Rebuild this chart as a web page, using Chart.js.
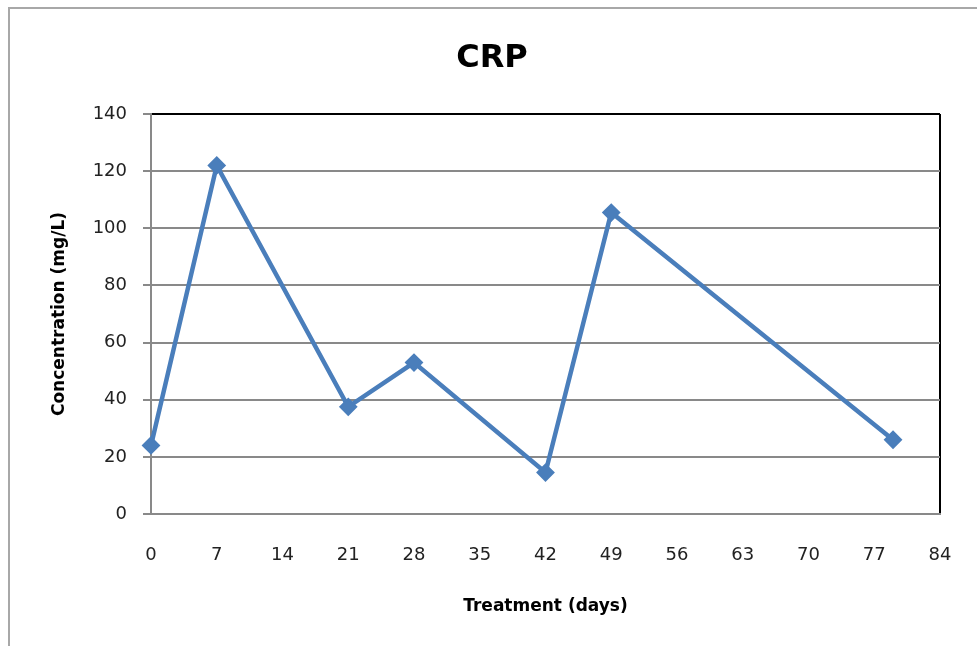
<!DOCTYPE html>
<html>
<head>
<meta charset="utf-8">
<title>CRP</title>
<script src="https://cdn.jsdelivr.net/npm/chart.js@4/dist/chart.umd.min.js"></script>
<style>
  body { margin: 0; background: #fff; }
</style>
</head>
<body>
<canvas id="grafico" width="977" height="646"></canvas>
<script>
// datos
const dias = [0, 7, 21, 28, 42, 49, 79];
const crp = [24, 122, 37.5, 53, 14.5, 105.5, 26];
const ticksX = [0, 7, 14, 21, 28, 35, 42, 49, 56, 63, 70, 77, 84];
const ticksY = [0, 20, 40, 60, 80, 100, 120, 140];

const azul = "#4a7ebb";
const gris = "#898989";
const fuente = "'DejaVu Sans', sans-serif";

// marco exterior gris (como en la hoja de Excel)
const marco = {
  id: "marco",
  beforeDraw(chart) {
    const ctx = chart.ctx;
    ctx.save();
    ctx.strokeStyle = "#a8a8a8";
    ctx.lineWidth = 2;
    ctx.beginPath();
    ctx.moveTo(9, 646);
    ctx.lineTo(9, 8);
    ctx.lineTo(977, 8);
    ctx.stroke();
    ctx.restore();
  },
};

const ctx = document.getElementById("grafico").getContext("2d");

new Chart(ctx, {
  type: "line",
  data: {
    datasets: [
      {
        label: "CRP",
        data: dias.map((d, i) => ({ x: d, y: crp[i] })),
        borderColor: azul,
        backgroundColor: azul,
        borderWidth: 4.5,
        pointStyle: "rectRot",
        pointRadius: 8,
        pointBorderWidth: 2,
        pointBackgroundColor: azul,
        pointBorderColor: azul,
        tension: 0,
        fill: false,
        clip: false,
      },
    ],
  },
  options: {
    responsive: false,
    animation: false,
    layout: { padding: { left: 44, right: 37, top: 0, bottom: 0 } },
    plugins: {
      legend: { display: false },
      tooltip: { enabled: false },
      title: {
        display: true,
        text: "CRP",
        color: "#000",
        font: { family: fuente, size: 32, weight: "bold" },
        padding: { top: 39, bottom: 36.6 },
      },
    },
    scales: {
      x: {
        type: "linear",
        min: 0,
        max: 84,
        afterBuildTicks: (scale) => {
          scale.ticks = ticksX.map((v) => ({ value: v }));
        },
        afterFit: (scale) => {
          scale.height = 132;
          scale.paddingLeft = 0;
          scale.paddingRight = 0;
        },
        ticks: {
          padding: 31,
          color: "#222",
          font: { family: fuente, size: 18 },
        },
        grid: {
          drawTicks: false,
          lineWidth: 2,
          color: (c) => (c.tick && c.tick.value === 84 ? "#000" : "rgba(0,0,0,0)"),
        },
        border: { display: true, color: gris, width: 2 },
        title: {
          display: true,
          text: "Treatment (days)",
          color: "#000",
          font: { family: fuente, size: 17, weight: "bold" },
          padding: { top: 0, bottom: 29 },
        },
      },
      y: {
        min: 0,
        max: 140,
        afterBuildTicks: (scale) => {
          scale.ticks = ticksY.map((v) => ({ value: v }));
        },
        afterFit: (scale) => {
          scale.width = 107;
        },
        ticks: {
          padding: 16,
          color: "#222",
          font: { family: fuente, size: 18 },
        },
        grid: {
          drawTicks: true,
          tickLength: 8,
          lineWidth: 2,
          tickColor: gris,
          color: (c) => (c.tick && c.tick.value === 140 ? "#000" : gris),
        },
        border: { display: true, color: gris, width: 2 },
        title: {
          display: true,
          text: "Concentration (mg/L)",
          color: "#000",
          font: { family: fuente, size: 17, weight: "bold" },
          padding: { top: 5.8, bottom: 0 },
        },
      },
    },
  },
  plugins: [marco],
});
</script>
</body>
</html>
